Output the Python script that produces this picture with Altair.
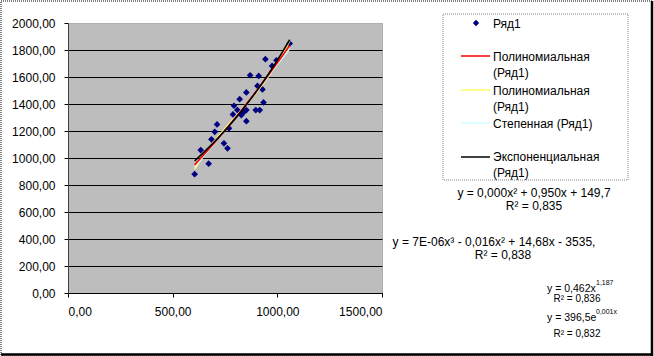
import altair as alt
import pandas as pd

# --- data ---
x_vals = [605, 634, 672, 685, 701, 712, 745, 762, 769, 788, 793, 809, 820, 828, 841,
          852, 852, 852, 870, 897, 905, 911, 916, 929, 934, 943, 975, 996, 1059]
y_vals = [880, 1059, 958, 1138, 1194, 1249, 1109, 1072, 1220, 1323, 1387, 1355, 1436, 1318, 1342,
          1486, 1355, 1273, 1613, 1355, 1534, 1608, 1355, 1508, 1412, 1732, 1682, 1724, 1848]
y_ticks = [0, 200, 400, 600, 800, 1000, 1200, 1400, 1600, 1800, 2000]
x_ticks = [0, 500, 1000, 1500]
series_name = "Ряд1"
trend_colors = ["#ff0000", "#ffff66", "#ccffff", "#000000"]

df = pd.DataFrame({"x": x_vals, "y": y_vals})
one = pd.DataFrame({"a": [0]})
FONT = "Liberation Sans"

W, H = 314, 270
PL, PT = 68, 23

xs = alt.Scale(domain=[0, 1500], nice=False)
ys = alt.Scale(domain=[0, 2000], nice=False)
fmt = "replace(format(datum.value, '.2f'), '.', ',')"

xa = alt.Axis(values=x_ticks, title=None, grid=False, labelExpr=fmt,
              tickSize=4, labelPadding=9, domainColor="#000000",
              tickColor="#000000", labelFontSize=12, labelFont=FONT,
              labelColor="#000000", labelOverlap=False)
ya = alt.Axis(values=y_ticks, title=None, grid=True, labelExpr=fmt,
              gridColor="#000000", gridWidth=1,
              gridOpacity={"condition": {"test": "datum.value == 2000", "value": 0}, "value": 1},
              tickSize=4, labelPadding=9, domainColor="#404040",
              tickColor="#000000", labelFontSize=12, labelFont=FONT,
              labelColor="#000000", labelOverlap=False)

base = alt.Chart(df)

points = base.mark_point(shape="diamond", filled=True, color="#000080", size=45, opacity=1).encode(
    x=alt.X("x:Q", scale=xs, axis=xa),
    y=alt.Y("y:Q", scale=ys, axis=ya),
)

def trend(method, order, color):
    kw = {"method": method}
    if order:
        kw["order"] = order
    return base.transform_regression("x", "y", **kw).mark_line(color=color, strokeWidth=1.6).encode(
        x=alt.X("x:Q", scale=xs, axis=xa), y=alt.Y("y:Q", scale=ys, axis=ya))

lines = [
    trend("poly", 3, trend_colors[1]),
    trend("pow", None, trend_colors[2]),
    trend("poly", 2, trend_colors[0]),
    trend("exp", None, trend_colors[3]),
]

layers = [points] + lines

# --- outer frame ---
c1 = alt.Chart(one)
layers.append(c1.mark_rect(fillOpacity=0, stroke="#000000", strokeDash=[1, 1], strokeWidth=1).encode(
    x=alt.value(-67), x2=alt.value(584), y=alt.value(-22), y2=alt.value(332)))
layers.append(c1.mark_rule(color="#000000", strokeWidth=2.5).encode(
    x=alt.value(584), y=alt.value(-22), y2=alt.value(333)))
layers.append(c1.mark_rule(color="#000000", strokeWidth=2.5).encode(
    x=alt.value(-67), x2=alt.value(585), y=alt.value(331.5)))

# --- legend box ---
layers.append(c1.mark_rect(fill="#ffffff", stroke="#808080", strokeDash=[1, 1], strokeWidth=1).encode(
    x=alt.value(375), x2=alt.value(560), y=alt.value(-9), y2=alt.value(157)))
layers.append(c1.mark_point(shape="diamond", filled=True, color="#000080", size=40, opacity=1).encode(
    x=alt.value(408), y=alt.value(0)))
for yy, col in zip([33, 67, 100, 134], trend_colors):
    layers.append(c1.mark_rule(color=col, strokeWidth=1.5).encode(
        x=alt.value(393), x2=alt.value(422), y=alt.value(yy)))

def txt(s, x, y, size=12, align="left"):
    return c1.mark_text(text=s, font=FONT, fontSize=size, align=align, baseline="middle",
                        color="#000000").encode(x=alt.value(x), y=alt.value(y))

legend_rows = [
    (series_name, 1),
    ("Полиномиальная", 34), ("(Ряд1)", 50),
    ("Полиномиальная", 68), ("(Ряд1)", 84),
    ("Степенная (Ряд1)", 101),
    ("Экспоненциальная", 134), ("(Ряд1)", 150),
]
for s, y in legend_rows:
    layers.append(txt(s, 425, y))

# --- trendline equations ---
layers += [
    txt("y = 0,000x² + 0,950x + 149,7", 466, 170, align="center"),
    txt("R² = 0,835", 466, 183, align="center"),
    txt("y = 7E-06x³ - 0,016x² + 14,68x - 3535,", 426, 219, align="center"),
    txt("R² = 0,838", 435, 232, align="center"),
    txt("y = 0,462x", 479, 266, size=10.5),
    txt("1,187", 528, 260, size=7),
    txt("R² = 0,836", 509, 276, size=10, align="center"),
    txt("y = 396,5e", 479, 295, size=10.5),
    txt("0,001x", 528, 288.5, size=7),
    txt("R² = 0,832", 509, 311, size=10, align="center"),
]

chart = alt.layer(*layers).properties(
    width=W, height=H,
    autosize=alt.AutoSizeParams(type="none"),
    padding={"left": PL, "top": PT, "right": 654 - PL - W, "bottom": 356 - PT - H},
).configure(background="#ffffff").configure_view(
    fill="#bdbdbd", stroke="#808080", strokeDash=[1, 1]
)

chart.save("out.html", embed_options={"renderer": "svg", "actions": False})
